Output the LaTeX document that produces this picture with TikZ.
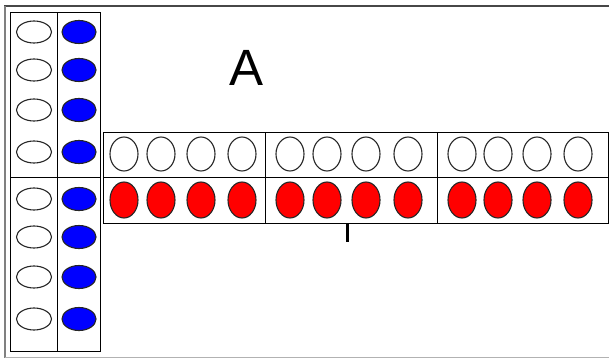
\documentclass[tikz,border=0pt]{standalone}
\usepackage{fontspec}
\setmainfont{Liberation Sans}
\usetikzlibrary{shapes.geometric}
\definecolor{beadblue}{RGB}{0,0,255}
\definecolor{beadred}{RGB}{255,0,0}
\begin{document}
\begin{tikzpicture}[x=1pt,y=-1pt,
  panel/.style={draw=black, line width=1pt},
  bead/.style={ellipse, draw=black!85, line width=1.1pt, inner sep=0pt},
  flatbead/.style={bead, minimum width=35pt, minimum height=22pt},
  tallbead/.style={bead, minimum width=28pt, minimum height=34pt},
  emptybead/.style={fill=white},
  bluebead/.style={fill=beadblue},
  redbead/.style={fill=beadred},
]
\useasboundingbox (0,0) rectangle (609,358);
\fill[white] (0,0) rectangle (609,358);

% sunken outer frame
\draw[black!72, line width=2pt] (4,6) -- (609,6);
\draw[black!50, line width=1.5pt] (5,6) -- (5,358);
\draw[black!30, line width=1pt] (5,357) -- (609,357);

% vertical panel: two columns, split into upper and lower halves
\draw[panel] (10,13) rectangle (100,351);
\draw[panel] (57,13) -- (57,351);
\draw[panel] (10,177) -- (100,177);

\foreach \y [count=\i] in {32,70,110,152,199,237,277,319} {
  \node[flatbead, emptybead] (vw\i) at (34,\y) {};
  \node[flatbead, bluebead, minimum height=23pt, minimum width=34pt] (vb\i) at (79,\y) {};
}

% horizontal bar: two rows, three groups of four
\draw[panel] (103,133) rectangle (608,223);
\draw[panel] (103,177) -- (608,177);
\draw[panel] (265,133) -- (265,223);
\draw[panel] (437,133) -- (437,223);

\foreach \x [count=\i] in {124,161,201,242,290,327,366,408,462,498,537,578} {
  \node[tallbead, emptybead] (hw\i) at (\x,154) {};
  \node[tallbead, redbead, minimum height=36pt] (hr\i) at (\x,200) {};
}

% label and tick mark
\node[inner sep=0pt, font=\fontsize{51}{51}\selectfont] (lblA) at (246.5,67.5) {A};
\coordinate (tickTop) at (347,223);
\coordinate (tickEnd) at (347,242);
\draw[line width=3pt] (tickTop) -- (tickEnd);
\end{tikzpicture}
\end{document}
